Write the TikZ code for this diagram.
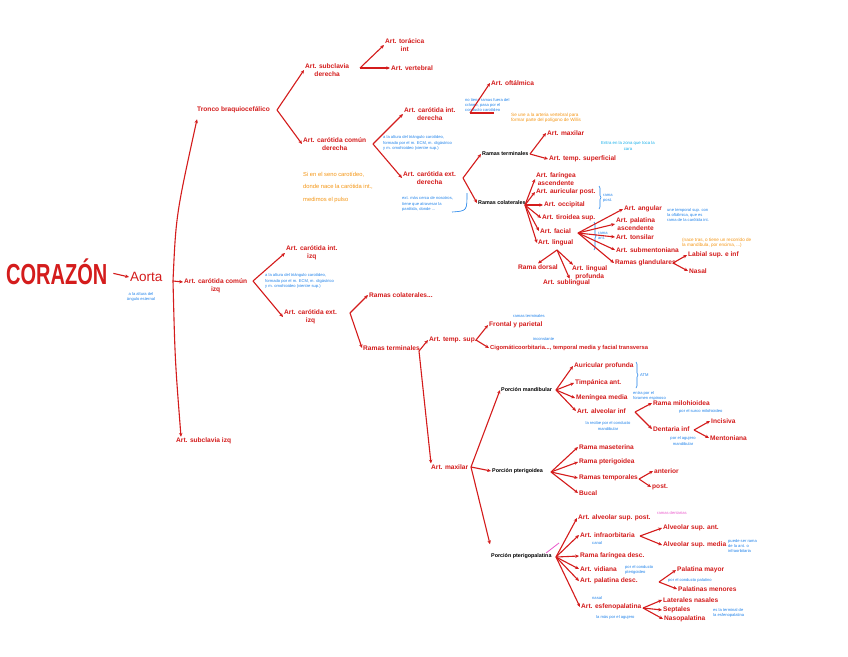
\documentclass[tikz,border=0pt]{standalone}
\usepackage{fontspec}
\setmainfont{Liberation Sans}
\usetikzlibrary{arrows.meta,decorations.pathreplacing}
\definecolor{mred}{RGB}{212,28,28}
\definecolor{mblue}{RGB}{30,130,235}
\definecolor{morange}{RGB}{245,150,20}
\definecolor{mcyan}{RGB}{20,175,235}
\definecolor{mpink}{RGB}{235,90,205}
\begin{document}
\begin{tikzpicture}[x=1pt,y=-1pt,
  every node/.style={inner sep=1pt},
  lbl/.style={text=mred, font=\bfseries\fontsize{6.6}{7.8}\selectfont, anchor=west, align=center},
  blk/.style={text=black, font=\bfseries\fontsize{5.4}{7}\selectfont, anchor=west, align=center},
  bnote/.style={text=mblue, font=\fontsize{4.1}{5.3}\selectfont, anchor=west, align=left},
  cnote/.style={text=mcyan, font=\fontsize{4.3}{6.5}\selectfont, anchor=west, align=center},
  pnote/.style={text=mpink, font=\fontsize{4.1}{5.3}\selectfont, anchor=west, align=left},
  onote/.style={text=morange, font=\fontsize{5.8}{12.5}\selectfont, anchor=west, align=left},
  osmall/.style={text=morange, font=\fontsize{4.6}{5.6}\selectfont, anchor=west, align=left},
  conn/.style={draw=mred, line width=1.1pt, -{Stealth[length=3.8pt,width=3.4pt]}},
  plainline/.style={draw=mred, line width=1.1pt},
  brk/.style={draw=mblue, line width=0.6pt, decorate, decoration={brace,amplitude=2pt}},
  bluepen/.style={draw=mblue, line width=0.6pt},
]
\useasboundingbox[fill=white] (0,0) rectangle (848,656);

% ---------- root ----------
\node[text=mred, font=\bfseries\fontsize{20}{20}\selectfont, anchor=west, inner sep=0pt] (cor) at (6,272) {\scalebox{1}[1.45]{CORAZÓN}};
\node[text=mred, font=\fontsize{13.5}{14}\selectfont, anchor=west] (aorta) at (129,277) {Aorta};
\node[text=mblue, font=\fontsize{4.1}{5.6}\selectfont, align=center] (an) at (141,297) {a la altura del\\ángulo esternal};
\draw[conn, shorten <=6pt] (cor.east) -- (aorta.west);

% ---------- first level ----------
\node[lbl] (tb) at (196,110) {Tronco braquiocefálico};
\node[lbl] (cci) at (183,286) {Art. carótida común\\izq};
\node[lbl] (sci) at (175,441) {Art. subclavia izq};
\coordinate (arch) at (173,281);
\draw[conn] (arch) .. controls (176,215) .. ([xshift=1pt,yshift=-5pt]tb.south west);
\draw[conn] (arch) .. controls (175,360) .. ([xshift=6pt]sci.north west);
\draw[conn] (arch) -- ([yshift=4pt]cci.west);

% ---------- tronco braquiocefalico ----------
\node[lbl] (scd) at (304,70) {Art. subclavia\\derecha};
\node[lbl] (cccd) at (302,144) {Art. carótida común\\derecha};
\coordinate (ftb) at (277,110);
\draw[conn] (ftb) -- (scd.west);
\draw[conn] (ftb) -- (cccd.west);

\node[lbl] (tid) at (384,45) {Art. torácica\\int};
\node[lbl] (vert) at (390,68) {Art. vertebral};
\coordinate (fscd) at (360,68);
\draw[conn] (fscd) -- (tid.west);
\draw[conn] (fscd) -- (vert.west);

\node[bnote] (n1) at (382,143) {a la altura del triángulo carotídeo,\\formado por el m. ECM, m. digástrico\\y m. omohioideo (vientre sup.)};
\node[onote] (o1) at (302,187) {Si en el seno carotídeo,\\donde nace la carótida int.,\\medimos el pulso};

\node[lbl] (cid) at (403,114) {Art. carótida int.\\derecha};
\node[lbl] (ced) at (402,178) {Art. carótida ext.\\derecha};
\coordinate (fcccd) at (373,144);
\draw[conn] (fcccd) -- (cid.west);
\draw[conn] (fcccd) -- (ced.west);

\node[bnote] (n2) at (464,105) {no tiene ramas fuera del\\cráneo, pasa por el\\conducto carotídeo};
\node[lbl] (oft) at (490,83) {Art. oftálmica};
\coordinate (fcid) at (470,113);
\coordinate (cidx) at (494,113);
\draw[conn] (fcid) -- (oft.west);
\draw[plainline] (fcid) -- (cidx);
\node[osmall] (o2) at (510,118) {Se une a la arteria vertebral para\\formar parte del polígono de Willis};

\node[bnote] (n3) at (401,204) {ext. más cerca de nosotros,\\tiene que atravesar la\\parótida, donde ...};
\draw[bluepen] (452,212) .. controls (467,211) .. (467,193);

\node[blk] (rt1) at (481,154) {Ramas terminales};
\node[blk] (rc1) at (477,203) {Ramas colaterales};
\coordinate (fced) at (463,178);
\draw[conn] (fced) -- (rt1.west);
\draw[conn] (fced) -- (rc1.west);

\node[lbl] (amax) at (546,133) {Art. maxilar};
\node[lbl] (tsup) at (548,159) {Art. temp. superficial};
\coordinate (frt1) at (530,154);
\draw[conn] (frt1) -- (amax.west);
\draw[conn] (frt1) -- (tsup.west);
\node[cnote] (n4) at (600,146) {Entra en la zona que toca la\\cara};

% ramas colaterales derecha
\node[lbl] (fa) at (535,179) {Art. faríngea\\ascendente};
\node[lbl] (ap) at (535,192) {Art. auricular post.};
\node[lbl] (occ) at (543,205) {Art. occipital};
\node[lbl] (tsu) at (541,218) {Art. tiroidea sup.};
\node[lbl] (fac) at (539,231) {Art. facial};
\node[lbl] (lin) at (537,243) {Art. lingual};
\coordinate (frc1) at (525,205);
\foreach \t in {fa,ap,occ,tsu,fac,lin} \draw[conn] (frc1) -- (\t.west);
\draw[brk] (599,186) -- (599,209);
\node[bnote] (rp) at (602,198) {rama\\post.};
\draw[brk] (594,222) -- (594,250);
\node[bnote] (ra) at (597,236) {rama\\ant.};

% facial
\node[lbl] (ang) at (623,209) {Art. angular};
\node[lbl] (pal) at (615,224) {Art. palatina\\ascendente};
\node[lbl] (ton) at (615,237) {Art. tonsilar};
\node[lbl] (smt) at (615,250) {Art. submentoniana};
\node[lbl] (gla) at (614,263) {Ramas glandulares};
\coordinate (ffac) at (578,233);
\foreach \t in {ang,pal,ton,smt,gla} \draw[conn] (ffac) -- (\t.west);
\node[bnote] (n5) at (666,215) {une temporal sup. con\\la oftálmica, que es\\rama de la carótida int.};
\node[lbl] (lab) at (687,255) {Labial sup. e inf};
\node[lbl] (nas) at (688,271) {Nasal};
\coordinate (fgla) at (673,263);
\draw[conn] (fgla) -- (lab.west);
\draw[conn] (fgla) -- (nas.west);
\node[osmall] (o3) at (681,243) {(nace tras, o tiene un recorrido de\\la mandíbula, por encima, ...)};

% lingual
\node[lbl] (rd) at (517,267) {Rama dorsal};
\node[lbl] (sl) at (542,283) {Art. sublingual};
\node[lbl] (lp) at (571,273) {Art. lingual\\profunda};
\coordinate (flin) at (557,250);
\draw[conn] (flin) -- (rd.north);
\draw[conn] (flin) -- ([xshift=3pt]sl.north);
\draw[conn] (flin) -- ([xshift=2pt]lp.north west);

% ---------- carotida comun izq ----------
\node[lbl] (cii) at (285,253) {Art. carótida int.\\izq};
\node[lbl] (cei) at (283,317) {Art. carótida ext.\\izq};
\coordinate (fcci) at (253,281);
\draw[conn] (fcci) -- (cii.west);
\draw[conn] (fcci) -- (cei.west);
\node[bnote] (n6) at (264,281) {a la altura del triángulo carotídeo,\\formado por el m. ECM, m. digástrico\\y m. omohioideo (vientre sup.)};

\node[lbl] (rci) at (368,295) {Ramas colaterales...};
\node[lbl] (rti) at (362,348) {Ramas terminales};
\coordinate (fcei) at (350,313);
\draw[conn] (fcei) -- (rci.west);
\draw[conn] (fcei) -- (rti.west);

\node[lbl] (tsi) at (428,340) {Art. temp. sup.};
\node[lbl] (amx) at (430,467) {Art. maxilar};
\coordinate (frti) at (419,351);
\draw[conn] (frti) -- (tsi.west);
\draw[conn] (frti) -- ([xshift=1pt]amx.north west);

\node[lbl] (fp) at (488,325) {Frontal y parietal};
\node[lbl, font=\bfseries\fontsize{5.8}{7}\selectfont] (cig) at (489,348) {Cigomáticoorbitaria..., temporal media y facial transversa};
\coordinate (ftsi) at (476,340);
\draw[conn] (ftsi) -- (fp.west);
\draw[conn] (ftsi) -- (cig.west);
\node[bnote] (n7) at (512,316) {ramas terminales};
\node[bnote] (n8) at (532,339) {inconstante};

% ---------- maxilar ----------
\node[blk] (pm) at (500,390) {Porción mandibular};
\node[blk] (ppd) at (491,471) {Porción pterigoidea};
\node[blk] (ppp) at (490,556) {Porción pterigopalatina};
\coordinate (fmx) at (471,467);
\draw[conn] (fmx) -- (pm.west);
\draw[conn] (fmx) -- (ppd.west);
\draw[conn] (fmx) -- ([yshift=8pt]ppp.north west);
\draw[mpink, line width=0.8pt] (546,553) -- (559,543);

% mandibular
\node[lbl] (aup) at (573,366) {Auricular profunda};
\node[lbl] (tim) at (574,383) {Timpánica ant.};
\node[lbl] (men) at (575,398) {Meníngea media};
\node[lbl] (ali) at (576,411) {Art. alveolar inf};
\coordinate (fpm) at (556,390);
\foreach \t in {aup,tim,men,ali} \draw[conn] (fpm) -- (\t.west);
\draw[brk] (636,362) -- (636,388);
\node[bnote] (atm) at (639,375) {ATM};
\node[bnote] (n9) at (632,396) {entra por el\\foramen espinoso};
\node[text=mblue, font=\fontsize{4.1}{5.6}\selectfont, align=center] (n10) at (608,426) {la recibe por el conducto\\mandibular};
\node[lbl] (mil) at (652,403) {Rama milohioidea};
\node[bnote] (n11) at (678,411) {por el surco milohioideo};
\node[lbl] (din) at (652,429) {Dentaria inf};
\node[text=mblue, font=\fontsize{4.1}{5.6}\selectfont, align=center] (n12) at (683,441) {por el agujero\\mandibular};
\coordinate (fali) at (635,412);
\draw[conn] (fali) -- (mil.west);
\draw[conn] (fali) -- (din.west);
\node[lbl] (inc) at (710,421) {Incisiva};
\node[lbl] (mnt) at (709,438) {Mentoniana};
\coordinate (fdin) at (694,430);
\draw[conn] (fdin) -- (inc.west);
\draw[conn] (fdin) -- (mnt.west);

% pterigoidea
\node[lbl] (mas) at (578,447) {Rama maseterina};
\node[lbl] (rpt) at (578,462) {Rama pterigoidea};
\node[lbl] (rte) at (578,478) {Ramas temporales};
\node[lbl] (buc) at (578,493) {Bucal};
\coordinate (fppd) at (551,472);
\foreach \t in {mas,rpt,rte,buc} \draw[conn] (fppd) -- (\t.west);
\node[lbl] (ant) at (653,471) {anterior};
\node[lbl] (pst) at (651,487) {post.};
\coordinate (frte) at (639,479);
\draw[conn] (frte) -- (ant.west);
\draw[conn] (frte) -- (pst.west);

% pterigopalatina
\node[lbl] (asp) at (577,518) {Art. alveolar sup. post.};
\node[pnote] (n13) at (656,513) {ramas dentarias};
\node[lbl] (inf) at (579,535) {Art. infraorbitaria};
\node[bnote] (n14) at (591,543) {canal};
\node[lbl] (rfd) at (579,556) {Rama faríngea desc.};
\node[lbl] (vid) at (579,569) {Art. vidiana};
\node[bnote] (n15) at (624,570) {por el conducto\\pterigoideo};
\node[lbl] (pd) at (579,581) {Art. palatina desc.};
\node[lbl] (esf) at (580,607) {Art. esfenopalatina};
\node[bnote] (n16) at (591,598) {nasal};
\node[bnote] (n17) at (595,617) {la más por el agujero};
\coordinate (fppp) at (556,557);
\foreach \t in {asp,inf,rfd,vid,pd,esf} \draw[conn] (fppp) -- (\t.west);

\node[lbl] (asa) at (662,528) {Alveolar sup. ant.};
\node[lbl] (asm) at (662,545) {Alveolar sup. media};
\node[bnote] (n18) at (727,546) {puede ser rama\\de la ant. o\\infraorbitaria};
\coordinate (finf) at (640,536);
\draw[conn] (finf) -- (asa.west);
\draw[conn] (finf) -- (asm.west);

\node[lbl] (pmy) at (676,570) {Palatina mayor};
\node[lbl] (pme) at (677,589) {Palatinas menores};
\node[bnote] (n19) at (667,580) {por el conducto palatino};
\coordinate (fpd) at (659,582);
\draw[conn] (fpd) -- (pmy.west);
\draw[conn] (fpd) -- (pme.west);

\node[lbl] (lnas) at (662,600) {Laterales nasales};
\node[lbl] (sep) at (662,610) {Septales};
\node[lbl] (nps) at (663,619) {Nasopalatina};
\node[bnote] (n20) at (712,613) {es la terminal de\\la esfenopalatina};
\coordinate (fesf) at (643,608);
\foreach \t in {lnas,sep,nps} \draw[conn] (fesf) -- (\t.west);
\end{tikzpicture}
\end{document}
